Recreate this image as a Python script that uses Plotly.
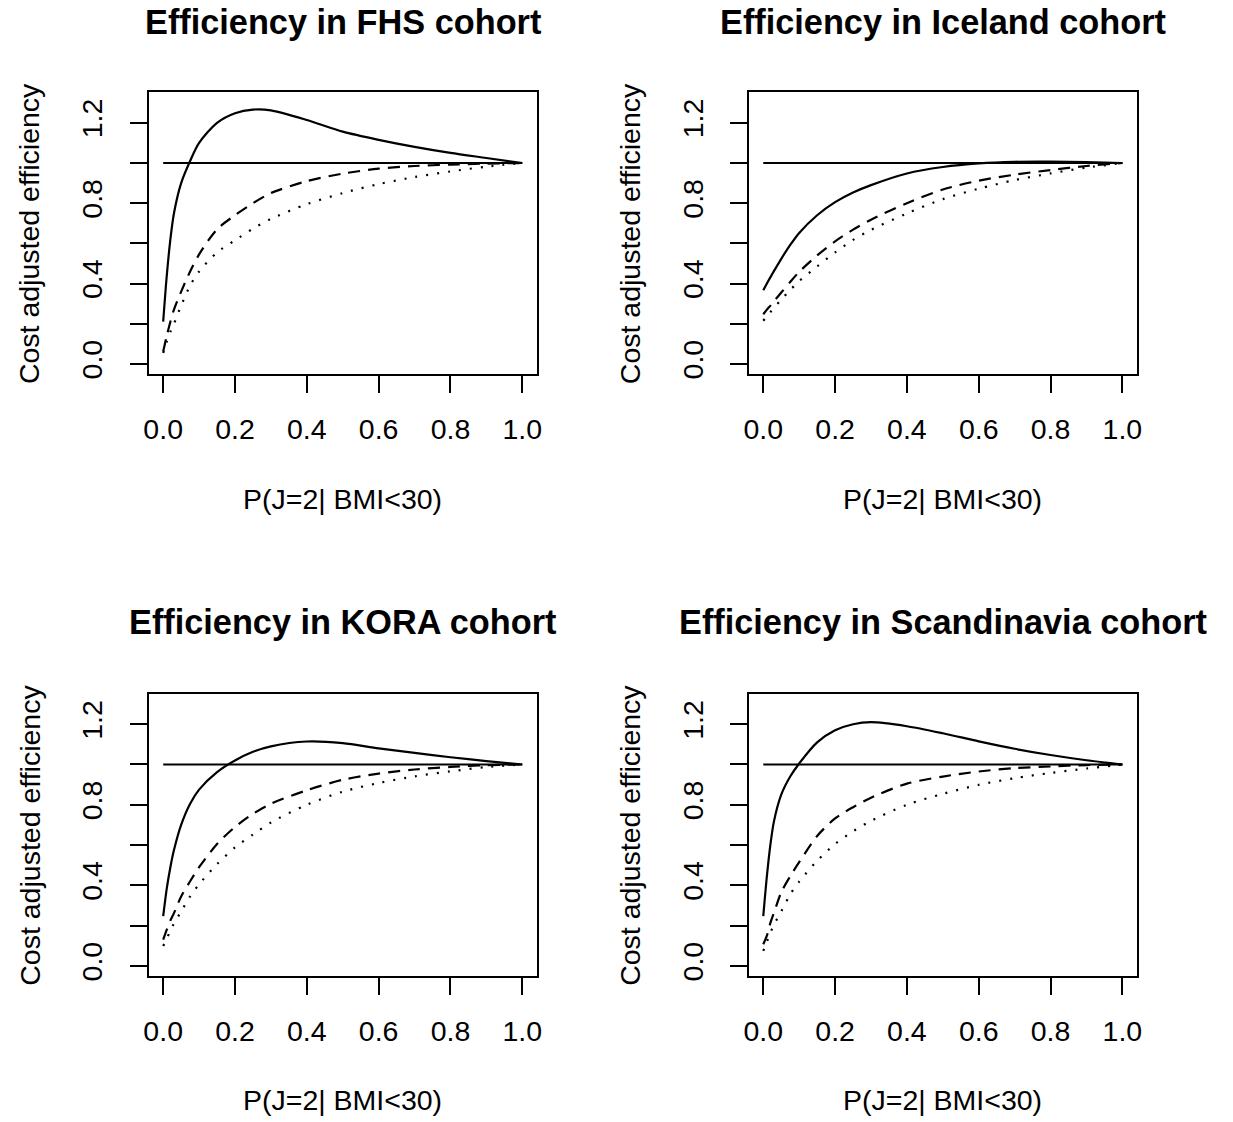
import plotly.graph_objects as go

# ---------------- data ----------------
p_grid = [0, 0.01, 0.02, 0.03, 0.05, 0.075, 0.1, 0.15, 0.2, 0.25, 0.3,
          0.4, 0.5, 0.6, 0.7, 0.8, 0.9, 1.0]

fhs_solid = [0.21, 0.44, 0.62, 0.75, 0.90, 1.01, 1.10, 1.20, 1.248, 1.266, 1.262,
             1.214, 1.156, 1.115, 1.08, 1.05, 1.025, 1.0]
fhs_dashed = [0.062, 0.14, 0.21, 0.27, 0.36, 0.46, 0.545, 0.67, 0.74, 0.80, 0.85,
              0.91, 0.947, 0.972, 0.985, 0.992, 0.997, 1.0]
fhs_dotted = [0.054, 0.11, 0.16, 0.20, 0.29, 0.39, 0.46, 0.555, 0.615, 0.673, 0.722,
              0.795, 0.85, 0.895, 0.93, 0.958, 0.982, 1.0]

ice_solid = [0.367, 0.40, 0.432, 0.463, 0.523, 0.592, 0.652, 0.74, 0.805, 0.853, 0.89,
             0.948, 0.98, 0.998, 1.006, 1.007, 1.004, 1.0]
ice_dashed = [0.247, 0.27, 0.29, 0.312, 0.355, 0.408, 0.458, 0.54, 0.61, 0.668, 0.718,
              0.80, 0.868, 0.912, 0.942, 0.965, 0.985, 1.0]
ice_dotted = [0.215, 0.237, 0.258, 0.279, 0.32, 0.368, 0.412, 0.485, 0.555, 0.617, 0.667,
              0.749, 0.82, 0.872, 0.915, 0.948, 0.977, 1.0]

kora_solid = [0.247, 0.385, 0.49, 0.575, 0.70, 0.805, 0.875, 0.962, 1.02, 1.063, 1.09,
              1.114, 1.106, 1.08, 1.058, 1.036, 1.017, 1.0]
kora_dashed = [0.13, 0.18, 0.225, 0.262, 0.345, 0.42, 0.49, 0.605, 0.69, 0.755, 0.805,
               0.872, 0.924, 0.955, 0.975, 0.988, 0.996, 1.0]
kora_dotted = [0.099, 0.135, 0.175, 0.21, 0.27, 0.345, 0.405, 0.505, 0.588, 0.652, 0.712,
               0.80, 0.865, 0.908, 0.941, 0.966, 0.987, 1.0]

scan_solid = [0.247, 0.445, 0.605, 0.72, 0.85, 0.94, 1.005, 1.11, 1.17, 1.2, 1.21,
              1.19, 1.155, 1.115, 1.078, 1.047, 1.021, 1.0]
scan_dashed = [0.107, 0.15, 0.215, 0.265, 0.365, 0.445, 0.515, 0.645, 0.732, 0.788, 0.835,
               0.905, 0.94, 0.965, 0.982, 0.99, 0.997, 1.0]
scan_dotted = [0.074, 0.12, 0.165, 0.205, 0.27, 0.355, 0.418, 0.522, 0.605, 0.668, 0.72,
               0.80, 0.854, 0.899, 0.932, 0.958, 0.98, 1.0]

ref_x = [0, 1]
ref_y = [1, 1]

titles = ["Efficiency in FHS cohort", "Efficiency in Iceland cohort",
          "Efficiency in KORA cohort", "Efficiency in Scandinavia cohort"]
x_label = "P(J=2| BMI<30)"
y_label = "Cost adjusted efficiency"

x_ticks = [0, 0.2, 0.4, 0.6, 0.8, 1.0]
x_ticktext = ["0.0", "0.2", "0.4", "0.6", "0.8", "1.0"]
y_ticks = [0, 0.2, 0.4, 0.6, 0.8, 1.0, 1.2]
y_ticktext = ["0.0", "", "0.4", "", "0.8", "", "1.2"]

panels = [
    (fhs_solid, fhs_dashed, fhs_dotted),
    (ice_solid, ice_dashed, ice_dotted),
    (kora_solid, kora_dashed, kora_dotted),
    (scan_solid, scan_dashed, scan_dotted),
]

# ---------------- layout geometry (pixels) ----------------
W, H = 1233, 1122
col_px = [(145, 536), (750, 1141)]
row_px = [(92.7, 376), (696.7, 980.7)]

FONT = "Liberation Sans, Arial, Helvetica, sans-serif"
base_size = 28.5
title_size = 34.3

fig = go.Figure()
annotations = []

for i, (solid, dashed, dotted) in enumerate(panels):
    r, c = divmod(i, 2)
    xa = "x" if i == 0 else f"x{i+1}"
    ya = "y" if i == 0 else f"y{i+1}"
    x0, x1 = col_px[c]
    y0, y1 = row_px[r]
    xdom = [x0 / W, x1 / W]
    ydom = [1 - y1 / H, 1 - y0 / H]

    fig.add_trace(go.Scatter(x=ref_x, y=ref_y, mode="lines",
                             line=dict(color="black", width=2),
                             xaxis=xa, yaxis=ya, showlegend=False, hoverinfo="skip"))
    fig.add_trace(go.Scatter(x=p_grid, y=solid, mode="lines",
                             line=dict(color="black", width=2.2, shape="spline", smoothing=0.8),
                             xaxis=xa, yaxis=ya, showlegend=False))
    fig.add_trace(go.Scatter(x=p_grid, y=dashed, mode="lines",
                             line=dict(color="black", width=2.2, dash="12px,8px",
                                       shape="spline", smoothing=0.8),
                             xaxis=xa, yaxis=ya, showlegend=False))
    fig.add_trace(go.Scatter(x=p_grid, y=dotted, mode="lines",
                             line=dict(color="black", width=2.2, dash="2px,9px",
                                       shape="spline", smoothing=0.8),
                             xaxis=xa, yaxis=ya, showlegend=False))

    axis_common = dict(showgrid=False, zeroline=False, showline=True, mirror=True,
                       linecolor="black", linewidth=2, ticks="outside", ticklen=17,
                       tickwidth=2, tickcolor="black",
                       tickfont=dict(family=FONT, size=base_size, color="black"))
    xkey = "xaxis" if i == 0 else f"xaxis{i+1}"
    ykey = "yaxis" if i == 0 else f"yaxis{i+1}"
    fig.update_layout({
        xkey: dict(domain=xdom, anchor=ya, range=[-0.04, 1.04],
                   tickmode="array", tickvals=x_ticks, ticktext=x_ticktext,
                   ticklabelstandoff=11, **axis_common),
        ykey: dict(domain=ydom, anchor=xa, range=[-0.052, 1.352],
                   tickmode="array", tickvals=y_ticks, ticktext=y_ticktext,
                   tickangle=-90, ticklabelstandoff=16, **axis_common),
    })

    cx = (x0 + x1) / 2
    annotations.append(dict(text=f"<b>{titles[i]}</b>", x=cx / W, y=1 - (22 + 603 * r) / H,
                            xref="paper", yref="paper", showarrow=False,
                            xanchor="center", yanchor="middle",
                            font=dict(family=FONT, size=title_size, color="black")))
    annotations.append(dict(text=x_label, x=cx / W, y=1 - (501 + 604 * r) / H,
                            xref="paper", yref="paper", showarrow=False,
                            xanchor="center", yanchor="middle",
                            font=dict(family=FONT, size=base_size, color="black")))
    annotations.append(dict(text=y_label, x=(25 + 605 * c) / W, y=1 - ((y0 + y1) / 2) / H,
                            xref="paper", yref="paper", showarrow=False, textangle=-90,
                            xanchor="center", yanchor="middle",
                            font=dict(family=FONT, size=base_size, color="black")))

fig.update_layout(width=W, height=H, margin=dict(l=0, r=0, t=0, b=0),
                  plot_bgcolor="white", paper_bgcolor="white",
                  annotations=annotations, showlegend=False)

fig.write_html("out.html")
